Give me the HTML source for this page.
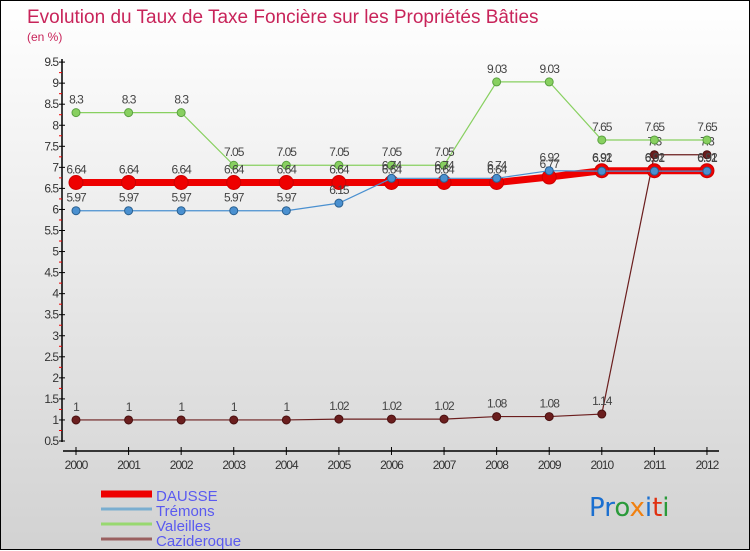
<!DOCTYPE html>
<html><head><meta charset="utf-8"><style>
html,body{margin:0;padding:0}
body{width:750px;height:550px;overflow:hidden;font-family:"Liberation Sans",sans-serif}
#wrap{position:relative;width:748px;height:548px;border:1px solid #000;background:linear-gradient(#ffffff,#d2d2d2)}
svg{position:absolute;left:0;top:0}
</style></head><body>
<div id="wrap">
<svg id="c" width="750" height="550">
<text x="26" y="22" font-size="19" fill="#c8245a" font-weight="300">Evolution du Taux de Taxe Foncière sur les Propriétés Bâties</text>
<text x="26" y="40" font-size="12" fill="#c8245a">(en %)</text>
<text x="588" y="515" font-size="26" font-family="'DejaVu Sans',sans-serif"><tspan fill="#1a6fd0">Pr</tspan><tspan fill="#2a9a3a">o</tspan><tspan fill="#f08010">x</tspan><tspan fill="#1a6fd0">i</tspan><tspan fill="#e03010">t</tspan><tspan fill="#2a9a3a">i</tspan></text>
</svg>
</div>
<script>
const years=[2000,2001,2002,2003,2004,2005,2006,2007,2008,2009,2010,2011,2012];
const yTicks=[0.5,1,1.5,2,2.5,3,3.5,4,4.5,5,5.5,6,6.5,7,7.5,8,8.5,9,9.5];
const dausse=[6.64,6.64,6.64,6.64,6.64,6.64,6.64,6.64,6.64,6.77,6.92,6.92,6.92];
const tremons=[5.97,5.97,5.97,5.97,5.97,6.15,6.74,6.74,6.74,6.92,6.91,6.91,6.91];
const valeilles=[8.3,8.3,8.3,7.05,7.05,7.05,7.05,7.05,9.03,9.03,7.65,7.65,7.65];
const cazideroque=[1,1,1,1,1,1.02,1.02,1.02,1.08,1.08,1.14,7.3,7.3];
const svg=document.getElementById('c');const NS='http://www.w3.org/2000/svg';
function X(i){return 75+i*52.58;}
function Y(v){return 440-(v-0.5)*42.1;}
function mk(t,a,p){const e=document.createElementNS(NS,t);for(const k in a)e.setAttribute(k,a[k]);(p||svg).appendChild(e);return e;}
let ya=mk('line',{x1:61,y1:58,x2:61,y2:441,stroke:'#000','stroke-width':1.5});


let xa=mk('line',{x1:62,y1:450,x2:718,y2:450,stroke:'#000','stroke-width':1.5});


yTicks.forEach(v=>{
 mk('line',{x1:58,y1:Y(v),x2:64,y2:Y(v),stroke:'#000'});
 if(v<9.5) mk('line',{x1:58,y1:Y(v+0.25),x2:61,y2:Y(v+0.25),stroke:'#e00'});
 let t=mk('text',{x:57,y:Y(v)+4,'font-size':12,'text-anchor':'end',fill:'#333','letter-spacing':'-1'});
 t.textContent=String(v);
 
 
});
years.forEach((yr,i)=>{
 mk('line',{x1:X(i),y1:446,x2:X(i),y2:454,stroke:'#000'});
 let t=mk('text',{x:X(i),y:468,'font-size':12,'text-anchor':'middle',fill:'#333','letter-spacing':'-1'});
 t.textContent=yr;
 
 
});
function series(arr,color,w,r,name,dark){
 const g=mk('g',{});
 
 
 mk('polyline',{points:arr.map((v,i)=>X(i)+','+Y(v)).join(' '),fill:'none',stroke:color,'stroke-width':w},g);
 arr.forEach((v,i)=>{
  const c=mk('circle',{cx:X(i),cy:Y(v),r:r,fill:color,stroke:dark,'stroke-width':1},g);
  
  
  const t=mk('text',{x:X(i),y:Y(v)-9,'font-size':12,'text-anchor':'middle',fill:'#444','letter-spacing':'-1'},g);
  t.textContent=String(v);
  
  
 });
}
series(cazideroque,'#6b1e1e',1.2,4,'cazideroque','#4a1010');
series(valeilles,'#88d060',1.2,4,'valeilles','#5aa040');
series(dausse,'#ee0000',7,7,'dausse','#c00');
series(tremons,'#4a90d0',1.2,4,'tremons','#2a6090');
const legNames=['DAUSSE','Trémons','Valeilles','Cazideroque'];
const legColors=['#ee0000','#7aaed0','#98d870','#9a6060'];
const legW=[7,3,3,3];
legNames.forEach((n,i)=>{
 const y=493+i*15;
 const l=mk('line',{x1:100,y1:y,x2:151,y2:y,stroke:legColors[i],'stroke-width':legW[i]});
 
 
 const t=mk('text',{x:155,y:y+7,'font-size':15,fill:'#5a5af0'});
 t.textContent=n;
 
 
});
</script>
</body></html>
